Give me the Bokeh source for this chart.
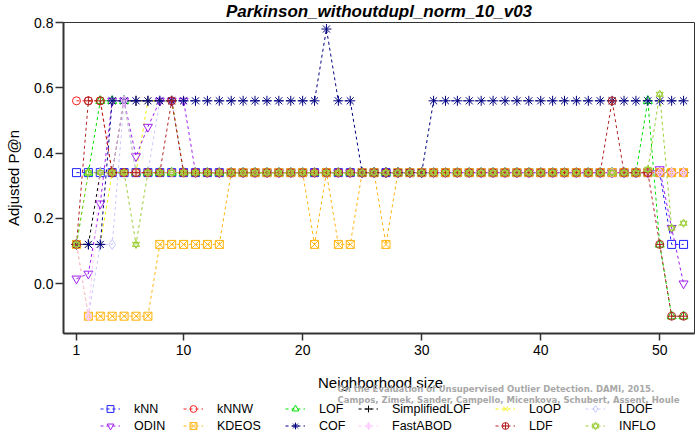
from bokeh.plotting import figure
from bokeh.models import (Range1d, Legend, LegendItem, Label, FixedTicker,
                          PrintfTickFormatter, ColumnDataSource)
from bokeh.layouts import column
from bokeh.embed import file_html
from bokeh.resources import INLINE

# ---------------- data ----------------
neighborhood_size = list(range(1, 53))

knn = [0.34, 0.34, 0.34, 0.34, 0.34, 0.34, 0.34, 0.34, 0.34, 0.34, 0.34, 0.34, 0.34,
       0.34, 0.34, 0.34, 0.34, 0.34, 0.34, 0.34, 0.34, 0.34, 0.34, 0.34, 0.34, 0.34,
       0.34, 0.34, 0.34, 0.34, 0.34, 0.34, 0.34, 0.34, 0.34, 0.34, 0.34, 0.34, 0.34,
       0.34, 0.34, 0.34, 0.34, 0.34, 0.34, 0.34, 0.34, 0.34, 0.34, 0.34, 0.12, 0.12]

knnw = [0.56, 0.56, 0.56, 0.34, 0.34, 0.34, 0.34, 0.34, 0.34, 0.34, 0.34, 0.34, 0.34,
        0.34, 0.34, 0.34, 0.34, 0.34, 0.34, 0.34, 0.34, 0.34, 0.34, 0.34, 0.34, 0.34,
        0.34, 0.34, 0.34, 0.34, 0.34, 0.34, 0.34, 0.34, 0.34, 0.34, 0.34, 0.34, 0.34,
        0.34, 0.34, 0.34, 0.34, 0.34, 0.34, 0.34, 0.34, 0.34, 0.34, 0.34, 0.34, 0.34]

lof = [0.12, 0.34, 0.56, 0.56, 0.56, 0.34, 0.34, 0.34, 0.34, 0.34, 0.34, 0.34, 0.34,
       0.34, 0.34, 0.34, 0.34, 0.34, 0.34, 0.34, 0.34, 0.34, 0.34, 0.34, 0.34, 0.34,
       0.34, 0.34, 0.34, 0.34, 0.34, 0.34, 0.34, 0.34, 0.34, 0.34, 0.34, 0.34, 0.34,
       0.34, 0.34, 0.34, 0.34, 0.34, 0.34, 0.34, 0.34, 0.34, 0.56, 0.12, -0.1, -0.1]

simplified_lof = [0.12, 0.12, 0.34, 0.34, 0.56, 0.56, 0.56, 0.56, 0.56, 0.34, 0.34, 0.34, 0.34,
                  0.34, 0.34, 0.34, 0.34, 0.34, 0.34, 0.34, 0.34, 0.34, 0.34, 0.34, 0.34, 0.34,
                  0.34, 0.34, 0.34, 0.34, 0.34, 0.34, 0.34, 0.34, 0.34, 0.34, 0.34, 0.34, 0.34,
                  0.34, 0.34, 0.34, 0.34, 0.34, 0.34, 0.34, 0.34, 0.34, 0.34, 0.34, 0.34, 0.34]

loop = [0.12, 0.12, 0.12, 0.34, 0.34, 0.34, 0.56, 0.56, 0.56, 0.34, 0.34, 0.34, 0.34,
        0.34, 0.34, 0.34, 0.34, 0.34, 0.34, 0.34, 0.34, 0.34, 0.34, 0.34, 0.34, 0.34,
        0.34, 0.34, 0.34, 0.34, 0.34, 0.34, 0.34, 0.34, 0.34, 0.34, 0.34, 0.34, 0.34,
        0.34, 0.34, 0.34, 0.34, 0.34, 0.34, 0.34, 0.34, 0.34, 0.34, 0.34, 0.34, 0.34]

ldof = [0.12, -0.1, 0.12, 0.12, 0.56, 0.34, 0.34, 0.56, 0.56, 0.34, 0.34, 0.34, 0.34,
        0.34, 0.34, 0.34, 0.34, 0.34, 0.34, 0.34, 0.34, 0.34, 0.34, 0.34, 0.34, 0.34,
        0.34, 0.34, 0.34, 0.34, 0.34, 0.34, 0.34, 0.34, 0.34, 0.34, 0.34, 0.34, 0.34,
        0.34, 0.34, 0.34, 0.34, 0.34, 0.34, 0.34, 0.34, 0.34, 0.34, 0.34, 0.34, 0.34]

odin = [0.015, 0.03, 0.245, 0.56, 0.56, 0.39, 0.48, 0.56, 0.56, 0.56, 0.34, 0.34, 0.34,
        0.34, 0.34, 0.34, 0.34, 0.34, 0.34, 0.34, 0.34, 0.34, 0.34, 0.34, 0.34, 0.34,
        0.34, 0.34, 0.34, 0.34, 0.34, 0.34, 0.34, 0.34, 0.34, 0.34, 0.34, 0.34, 0.34,
        0.34, 0.34, 0.34, 0.34, 0.34, 0.34, 0.34, 0.34, 0.34, 0.34, 0.35, 0.17, 0.0]

kdeos = [0.12, -0.1, -0.1, -0.1, -0.1, -0.1, -0.1, 0.12, 0.12, 0.12, 0.12, 0.12, 0.12,
         0.34, 0.34, 0.34, 0.34, 0.34, 0.34, 0.34, 0.12, 0.34, 0.12, 0.12, 0.34, 0.34,
         0.12, 0.34, 0.34, 0.34, 0.34, 0.34, 0.34, 0.34, 0.34, 0.34, 0.34, 0.34, 0.34,
         0.34, 0.34, 0.34, 0.34, 0.34, 0.34, 0.34, 0.34, 0.34, 0.34, 0.34, 0.34, 0.34]

cof = [0.12, 0.12, 0.12, 0.56, 0.56, 0.56, 0.56, 0.56, 0.56, 0.56, 0.56, 0.56, 0.56,
       0.56, 0.56, 0.56, 0.56, 0.56, 0.56, 0.56, 0.56, 0.78, 0.56, 0.56, 0.34, 0.34,
       0.34, 0.34, 0.34, 0.34, 0.56, 0.56, 0.56, 0.56, 0.56, 0.56, 0.56, 0.56, 0.56,
       0.56, 0.56, 0.56, 0.56, 0.56, 0.56, 0.56, 0.56, 0.56, 0.56, 0.56, 0.56, 0.56]

fastabod = [0.12, -0.1, 0.34, 0.34, 0.56, 0.34, 0.34, 0.34, 0.34, 0.34, 0.34, 0.34, 0.34,
            0.34, 0.34, 0.34, 0.34, 0.34, 0.34, 0.34, 0.34, 0.34, 0.34, 0.34, 0.34, 0.34,
            0.34, 0.34, 0.34, 0.34, 0.34, 0.34, 0.34, 0.34, 0.34, 0.34, 0.34, 0.34, 0.34,
            0.34, 0.34, 0.34, 0.34, 0.34, 0.34, 0.34, 0.34, 0.34, 0.34, 0.34, 0.34, 0.34]

ldf = [0.12, 0.56, 0.56, 0.34, 0.34, 0.34, 0.34, 0.34, 0.56, 0.34, 0.34, 0.34, 0.34,
       0.34, 0.34, 0.34, 0.34, 0.34, 0.34, 0.34, 0.34, 0.34, 0.34, 0.34, 0.34, 0.34,
       0.34, 0.34, 0.34, 0.34, 0.34, 0.34, 0.34, 0.34, 0.34, 0.34, 0.34, 0.34, 0.34,
       0.34, 0.34, 0.34, 0.34, 0.34, 0.34, 0.56, 0.34, 0.34, 0.34, 0.12, -0.1, -0.1]

inflo = [0.12, 0.34, 0.34, 0.34, 0.34, 0.12, 0.34, 0.34, 0.34, 0.34, 0.34, 0.34, 0.34,
         0.34, 0.34, 0.34, 0.34, 0.34, 0.34, 0.34, 0.34, 0.34, 0.34, 0.34, 0.34, 0.34,
         0.34, 0.34, 0.34, 0.34, 0.34, 0.34, 0.34, 0.34, 0.34, 0.34, 0.34, 0.34, 0.34,
         0.34, 0.34, 0.34, 0.34, 0.34, 0.34, 0.34, 0.34, 0.34, 0.35, 0.58, 0.17, 0.185]

x_ticks = [1, 10, 20, 30, 40, 50]
y_ticks = [0.0, 0.2, 0.4, 0.6, 0.8]

series_names = ["kNN", "kNNW", "LOF", "SimplifiedLOF", "LoOP", "LDOF",
                "ODIN", "KDEOS", "COF", "FastABOD", "LDF", "INFLO"]
series_values = [knn, knnw, lof, simplified_lof, loop, ldof,
                 odin, kdeos, cof, fastabod, ldf, inflo]

title_text = "Parkinson_withoutdupl_norm_10_v03"
x_label = "Neighborhood size"
y_label = "Adjusted P@n"
wm_lines = ["On the Evaluation of Unsupervised Outlier Detection. DAMI, 2015.",
            "Campos, Zimek, Sander, Campello, Micenkova, Schubert, Assent, Houle"]

# ---------------- styles ----------------
styles = {
    "kNN": ("#2020FF", [("square", 8)]),
    "kNNW": ("#FF2020", [("circle", 8)]),
    "LOF": ("#00E000", [("triangle", 9)]),
    "SimplifiedLOF": ("#000000", [("cross", 10)]),
    "LoOP": ("#F0F000", [("x", 8)]),
    "LDOF": ("#C8C8FF", [("diamond", 10)]),
    "ODIN": ("#A020F0", [("inverted_triangle", 9)]),
    "KDEOS": ("#FFB40F", [("square_x", 8)]),
    "COF": ("#000080", [("asterisk", 10)]),
    "FastABOD": ("#FFC8FF", [("diamond_cross", 9)]),
    "LDF": ("#B22222", [("circle_cross", 8)]),
    "INFLO": ("#9ACD32", [("triangle", 7), ("inverted_triangle", 7)]),
}
DASH = "3 3"
FONT = "Liberation Sans"
W = 697
H_MAIN = 363
H_FOOT = 71
FOOT_X0 = 63   # the footer's frame starts at the main frame's left edge

# ---------------- main plot ----------------
p = figure(width=W, height=H_MAIN, output_backend="svg", toolbar_location=None,
           x_range=Range1d(-0.09, 52.92), y_range=Range1d(-0.153, 0.8),
           min_border_left=63, min_border_right=3, min_border_top=22,
           min_border_bottom=30, background_fill_color="white",
           border_fill_color="white")
p.grid.visible = False
p.outline_line_color = "#333333"
p.outline_line_width = 1

p.title.text = title_text
p.title.align = "center"
p.title.vertical_align = "top"
p.title.text_font = FONT
p.title.text_font_size = "17px"
p.title.text_font_style = "bold italic"
p.title.text_color = "black"
p.title.standoff = 0

xa = p.xaxis[0]
ya = p.yaxis[0]
xa.ticker = FixedTicker(ticks=x_ticks)
ya.ticker = FixedTicker(ticks=y_ticks)
ya.formatter = PrintfTickFormatter(format="%.1f")
for ax in (xa, ya):
    ax.axis_line_color = "#333333"
    ax.axis_line_width = 2
    ax.major_tick_line_color = "#333333"
    ax.major_tick_line_width = 1.5
    ax.major_tick_out = 7
    ax.major_tick_in = 0
    ax.minor_tick_line_color = None
    ax.major_label_text_font = FONT
    ax.major_label_text_font_size = "14px"
    ax.major_label_text_color = "black"
    ax.axis_label_text_font = FONT
    ax.axis_label_text_font_size = "15px"
    ax.axis_label_text_font_style = "normal"
    ax.axis_label_text_color = "black"
ya.major_tick_out = 8
xa.major_label_standoff = 4
ya.major_label_standoff = 2
ya.axis_label = y_label
ya.axis_label_standoff = 9

for name, vals in zip(series_names, series_values):
    color, markers = styles[name]
    src = ColumnDataSource(dict(x=neighborhood_size, y=vals))
    p.line("x", "y", source=src, line_color=color, line_width=1, line_dash=DASH)
    for mk, sz in markers:
        p.scatter("x", "y", source=src, marker=mk, size=sz,
                  line_color=color, line_width=1, fill_alpha=0)

# ---------------- footer: axis title, credit, legend ----------------
f = figure(width=W, height=H_FOOT, output_backend="svg", toolbar_location=None,
           x_range=Range1d(0, 1), y_range=Range1d(0, 1),
           x_axis_location=None, y_axis_location=None,
           min_border_left=0, min_border_right=0, min_border_top=0,
           min_border_bottom=0, outline_line_color=None,
           background_fill_color="white", border_fill_color="white")
f.grid.visible = False

f.add_layout(Label(x=380 - FOOT_X0, y=52, x_units="screen", y_units="screen",
                   text=x_label, text_align="center", text_baseline="middle",
                   text_font=FONT, text_font_size="15px", text_color="black"))
for i, t in enumerate(wm_lines):
    f.add_layout(Label(x=337 - FOOT_X0, y=46 - 11 * i, x_units="screen",
                       y_units="screen", text=t, text_align="left",
                       text_baseline="middle", text_font="DejaVu Sans",
                       text_font_size="8.5px", text_font_style="bold",
                       text_color="#a8a8a8"))

# legend key renderers: NaN point, so only the key glyph is drawn
nan = float("nan")
items = []
for name in series_names:
    color, markers = styles[name]
    src = ColumnDataSource(dict(x=[nan], y=[nan]))
    rends = [f.line("x", "y", source=src, line_color=color, line_width=1,
                    line_dash=DASH)]
    for mk, sz in markers:
        rends.append(f.scatter("x", "y", source=src, marker=mk, size=sz,
                               line_color=color, line_width=1, fill_alpha=0))
    items.append(LegendItem(label=name, renderers=rends))

col_x = [100, 183, 285, 358, 495, 585]
for c in range(6):
    leg = Legend(items=[items[c], items[c + 6]],
                 location=(col_x[c] - FOOT_X0, 0),
                 orientation="vertical", glyph_width=20, glyph_height=17,
                 label_height=17, label_standoff=14, spacing=0, padding=0,
                 margin=0, border_line_color=None, background_fill_alpha=0,
                 label_text_font=FONT, label_text_font_size="12.5px",
                 label_text_color="black")
    f.add_layout(leg)

layout = column(p, f, spacing=0)
open("out.html", "w").write(file_html(layout, INLINE))
